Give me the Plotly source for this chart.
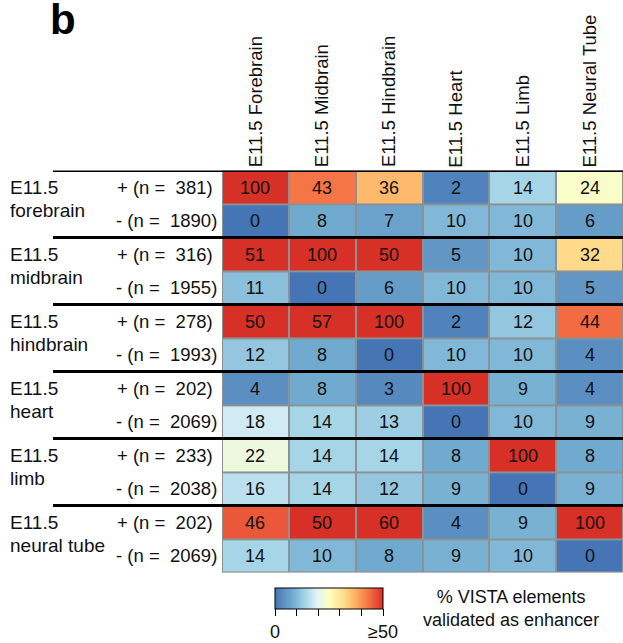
import plotly.graph_objects as go

tissues = ["E11.5 Forebrain", "E11.5 Midbrain", "E11.5 Hindbrain",
           "E11.5 Heart", "E11.5 Limb", "E11.5 Neural Tube"]
groups = ["forebrain", "midbrain", "hindbrain", "heart", "limb", "neural tube"]
n_pos = [381, 316, 278, 202, 233, 202]
n_neg = [1890, 1955, 1993, 2069, 2038, 2069]

forebrain_pos = [100, 43, 36, 2, 14, 24]
forebrain_neg = [0, 8, 7, 10, 10, 6]
midbrain_pos = [51, 100, 50, 5, 10, 32]
midbrain_neg = [11, 0, 6, 10, 10, 5]
hindbrain_pos = [50, 57, 100, 2, 12, 44]
hindbrain_neg = [12, 8, 0, 10, 10, 4]
heart_pos = [4, 8, 3, 100, 9, 4]
heart_neg = [18, 14, 13, 0, 10, 9]
limb_pos = [22, 14, 14, 8, 100, 8]
limb_neg = [16, 14, 12, 9, 0, 9]
neural_pos = [46, 50, 60, 4, 9, 100]
neural_neg = [14, 10, 8, 9, 10, 0]

values = [forebrain_pos, forebrain_neg, midbrain_pos, midbrain_neg,
          hindbrain_pos, hindbrain_neg, heart_pos, heart_neg,
          limb_pos, limb_neg, neural_pos, neural_neg]

cbar_ticks = [0, 10, 20, 30, 40, 50]
cbar_text = ["0", "", "", "", "", "\u226550"]

W, H = 623, 643
FONT = "Arial, Liberation Sans, sans-serif"
TXT = "#111111"

def px(x):
    return x / W

def py(y):
    return 1 - y / H

stops = [0, 8.5, 14.5, 19.5, 25, 31.25, 37.5, 43.75, 50]
colors = ["#4575b4", "#74add1", "#abd9e9", "#e0f3f8", "#ffffbf",
          "#fee090", "#fdae61", "#f46d43", "#d73027"]
cscale = [[s / 50, c] for s, c in zip(stops, colors)]

nrows = len(values)
fig = go.Figure(go.Heatmap(
    z=values,
    x=list(range(len(tissues))),
    y=list(range(nrows)),
    text=values,
    texttemplate="%{text}",
    textfont=dict(family=FONT, size=18, color=TXT),
    colorscale=cscale, zmin=0, zmax=50,
    xgap=2, ygap=2,
    hoverinfo="skip",
    colorbar=dict(
        orientation="h", lenmode="pixels", len=108,
        thicknessmode="pixels", thickness=21,
        x=px(329), xanchor="center", y=py(594), yanchor="top",
        xpad=0, ypad=0,
        outlinecolor="black", outlinewidth=1,
        tickvals=cbar_ticks, ticktext=cbar_text,
        ticks="outside", ticklen=7, tickcolor="black", tickwidth=1,
        tickfont=dict(family=FONT, size=18, color=TXT),
    ),
))

fig.update_layout(
    width=W, height=H,
    margin=dict(l=0, r=0, t=0, b=0),
    paper_bgcolor="white",
    plot_bgcolor="#8c9194",
    xaxis=dict(domain=[px(222), 1.0], range=[-0.5, 5.5], visible=False, fixedrange=True),
    yaxis=dict(domain=[py(578), py(172)], range=[nrows - 0.5, -0.5], visible=False, fixedrange=True),
    showlegend=False,
)

ann = []
ann.append(dict(text="<b>b</b>", x=px(48), y=1.0, xref="paper", yref="paper",
                xanchor="left", yanchor="top", height=34, valign="middle",
                showarrow=False, font=dict(family=FONT, size=42, color="black")))
for i, t in enumerate(tissues):
    ann.append(dict(text=t, x=i, y=py(171), xref="x", yref="paper",
                    xanchor="center", yanchor="bottom", textangle=-90,
                    showarrow=False, font=dict(family=FONT, size=18.5, color=TXT)))
for g, name in enumerate(groups):
    ann.append(dict(text="E11.5", x=px(8), y=2 * g,
                    xref="paper", yref="y", xanchor="left", yanchor="middle",
                    showarrow=False, font=dict(family=FONT, size=19, color=TXT)))
    ann.append(dict(text=name, x=px(8), y=2 * g + 0.70,
                    xref="paper", yref="y", xanchor="left", yanchor="middle",
                    showarrow=False, font=dict(family=FONT, size=19, color=TXT)))
    ann.append(dict(text="+ (n =\u00a0\u00a0%d)" % n_pos[g], x=px(115), y=2 * g,
                    xref="paper", yref="y", xanchor="left", yanchor="middle",
                    showarrow=False, font=dict(family=FONT, size=18.5, color=TXT)))
    ann.append(dict(text="- (n =\u00a0\u00a0%d)" % n_neg[g], x=px(114), y=2 * g + 1,
                    xref="paper", yref="y", xanchor="left", yanchor="middle",
                    showarrow=False, font=dict(family=FONT, size=18.5, color=TXT)))
ann.append(dict(text="% VISTA elements<br>validated as enhancer", x=px(511), y=py(614),
                xref="paper", yref="paper", xanchor="center", yanchor="middle",
                align="center", showarrow=False,
                font=dict(family=FONT, size=18, color=TXT)))
fig.update_layout(annotations=ann)

shapes = []
for g in range(len(groups)):
    yb = 2 * g - 0.5
    shapes.append(dict(type="line", xref="paper", yref="y", x0=px(53), x1=1.0,
                       y0=yb, y1=yb, line=dict(color="black", width=3)))
fig.update_layout(shapes=shapes)

fig.write_html("out.html", config={"displayModeBar": False},
               post_script="document.body.style.margin='0';document.body.style.overflow='hidden';")
